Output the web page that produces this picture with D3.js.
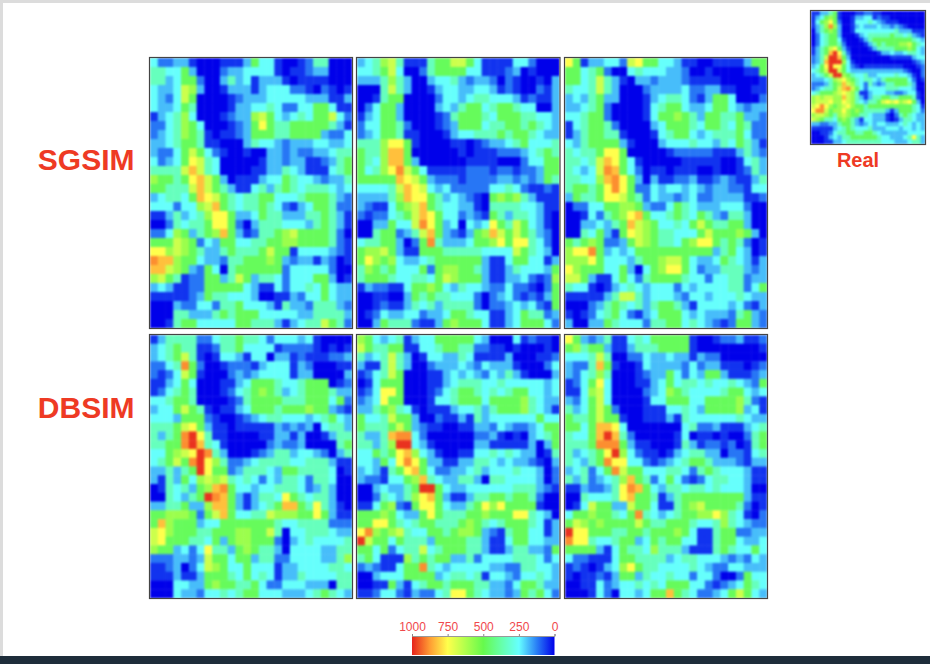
<!DOCTYPE html>
<html>
<head>
<meta charset="utf-8">
<script src="https://cdn.jsdelivr.net/npm/d3@7"></script>
<style>
html,body{margin:0;padding:0;background:#fff;overflow:hidden}
svg{display:block}
text{font-family:"Liberation Sans",Arial,sans-serif}
</style>
</head>
<body>
<svg id="c" width="930" height="664"></svg>
<script>
const sgsim1 = [
"42233 10001 11364 41001 25500 0","55446 30002 33444 41011 23300 0","55346 62003 53413 33101 11100 0",
"43348 73001 33313 44422 10210 1","43248 60000 12333 44444 33311 3","43346 50000 13344 54224 46641 1",
"13457 40001 23378 64345 46684 2","22457 64000 12369 65566 66653 1","23457 65101 12366 65566 66322 4",
"33456 65110 00354 43233 34433 4","32246 86421 00100 33232 23345 5","42346 98540 00001 33233 11235 6",
"55558 a8540 00011 33543 11145 6","76656 9a863 01113 44654 43233 5","66555 8a865 31145 35654 55543 4",
"34554 6a986 54556 64445 66653 2","44424 478a6 54556 54213 46652 2","11353 45799 63346 55333 55653 1",
"00254 55699 62035 55444 35653 1","22476 3567a 63125 56786 66652 0","66687 62436 64455 66776 66652 1",
"99787 65335 65556 86614 44432 1","baa76 64332 55666 76323 31320 1","aa876 32640 56666 66244 44420 0",
"78651 22663 58635 54244 46630 1","34311 22666 66431 14244 54643 3","11111 23655 44430 01132 44643 3",
"00032 24425 56444 31533 25553 2","00055 33356 56664 44443 35555 3","00156 64444 46655 53134 55865 2"];
const sgsim2 = [
"34578 51115 66886 41111 44200 0","44568 40025 66664 41112 30100 0","33357 53003 44532 33202 10010 3",
"00058 53001 34433 44312 10021 3","00156 60000 24434 55444 31211 3","02466 30000 34356 64566 54400 3",
"13466 30000 12566 65466 65544 3","24466 52000 12366 64556 65654 3","23466 51100 01344 55565 66543 3",
"55579 96100 00110 12334 56444 5","6557a a6000 00010 11122 23456 5","6547a a6300 00001 11100 02446 6",
"64579 b8641 11112 22122 12236 6","66666 a9863 22212 22233 23236 5","44445 8a984 34222 22445 42112 1",
"33335 7a996 53432 10676 75311 1","32114 678a6 54433 10555 54431 1","21224 568a9 64423 21653 55431 0",
"00336 448b9 63404 34965 86431 0","00566 2358a 63213 67a86 86532 0","45566 3026b 53334 66796 99542 0",
"67786 31166 65555 54444 86543 0","69767 43345 66666 63114 66441 3","57656 44462 67766 53113 54443 6",
"56665 44554 68766 63113 34212 7","13221 14667 64354 43224 22102 6","00110 03656 55444 20234 21213 6",
"00121 13545 35555 20223 43421 6","01243 34423 34665 44113 46552 3","00365 55211 36766 64113 46664 2"];
const sgsim3 = [
"96133 44289 66443 11001 11136 6","66456 20045 44433 20010 00011 6","66458 53103 32333 21111 00000 1",
"54458 53000 23333 42233 11001 1","34356 33000 13455 42136 64000 2","33456 20000 14566 43346 64323 3",
"44566 20000 14667 65366 55633 2","14566 52000 03466 65466 54652 2","13566 55100 01456 64345 55642 2",
"43566 66310 00344 45443 54653 1","54556 99600 00012 22221 11353 2","55458 a9641 00000 11111 00145 3",
"54348 ba642 01101 11001 00125 3","55447 ab963 03112 23112 32113 5","56656 9b962 24344 34323 32214 4",
"36556 99865 24332 34223 33311 2","02244 66776 32246 54333 44420 0","00142 5679a 64456 54653 25530 0",
"00334 356a8 76445 46865 56630 0","00546 31698 76554 44686 66763 0","65676 22368 76554 67996 56520 1",
"799b6 34346 66666 66663 56430 1","77796 44435 66788 64334 65431 3","97666 44630 46799 64233 55532 3",
"88631 14642 56666 54424 45523 3","54410 13454 34442 43444 45524 6","11111 35885 34443 24434 44543 3",
"00023 56545 35665 31444 43421 3","10124 56421 34666 43433 32563 2","30033 65444 25566 45432 12663 2"];
const dbsim1 = [
"13555 52245 56554 24443 41000 0","34565 51125 56444 41222 21010 1","34568 51014 43144 03312 11122 3",
"2245b 62001 22213 44413 20001 1","21248 61000 23234 44413 30000 3","11346 40001 13466 65445 66601 2",
"12456 50001 24567 65345 66653 3","44566 50000 12566 66555 66646 2","34468 65101 13466 65666 76632 1",
"44436 66210 01234 55444 34564 3","55568 96311 01111 13232 30455 3","5356b c9511 00001 13313 00135 5",
"5566b ca541 00000 23223 00005 6","44678 9cb53 00012 35534 43203 5","45686 bc975 22345 55544 55531 1",
"33535 6c966 23555 43665 55540 1","31536 47878 54542 43554 25540 0","01545 367ab 64434 45554 23530 0",
"00543 56cba 63135 54965 45530 0","33556 337aa 63134 56aa6 59531 0","66777 6268a 64455 87776 69631 1",
"6a766 63446 66666 65445 55522 2","89766 65566 67766 85044 55543 3","89666 55463 67766 62034 54444 5",
"76634 24955 36765 53044 44335 5","22233 23866 46635 52244 44335 7","11230 24876 44644 41334 44455 4",
"11131 13666 54645 41335 44445 5","00044 33676 65564 22444 33305 5","00043 32445 45664 44333 45654 3"];
const dbsim2 = [
"76434 51344 66666 43000 41211 0","86556 61144 56655 22110 10001 0","53458 53014 43354 11113 00011 2",
"31158 53002 33343 24333 10002 4","12458 60001 13434 32435 31000 3","01466 60001 13455 54454 44443 4",
"12499 60001 24566 54545 66443 4","23496 60001 44566 64666 67543 3","33567 54101 11344 53566 67543 1",
"64458 66300 21131 53444 44464 4","65556 86321 10011 33243 22346 6","5335a bb420 00000 22310 10345 6",
"55357 cc431 00000 33111 11303 6","44656 9a743 10011 44545 43301 5","44364 9b963 31133 55434 33210 3",
"34315 69a64 22334 53444 54430 2","32214 467a5 43355 30554 44430 2","00343 356cc 64334 44444 55532 1",
"00254 3579a 63113 55665 66520 0","11467 21699 64335 69796 66610 0","66676 43369 65556 67666 99543 0",
"66996 54566 55567 65456 66541 3","9b767 85446 65677 63215 66441 3","c8664 65553 66665 53114 66443 3",
"66462 45584 56665 53113 55332 6","56411 17565 66335 24444 55542 4","23211 466b5 43444 44332 25544 3",
"00344 46666 34554 51443 24454 3","00116 31456 65666 55332 46653 3","11244 21322 45996 54332 36564 2"];
const dbsim3 = [
"96323 51145 46666 61001 22311 2","67566 31135 55666 61000 00000 1","44458 50022 43343 31322 00000 0",
"3225a 61001 43333 24233 11101 2","32457 50001 23364 24366 31112 3","12469 40001 13464 55454 45432 6",
"11478 40000 23476 54444 56643 4","32468 40000 14466 64466 66752 1","53468 62000 11144 54366 66734 1",
"65568 66100 11131 54444 44543 3","6646a a9400 00000 45223 11134 5","5446a ca520 00001 40110 10025 6",
"5556b bb631 10001 53122 12015 6","53456 9c742 11013 45533 02214 5","54356 b9944 21234 56653 33213 3",
"34524 6b866 44455 42565 44431 1","53523 457a6 52464 21245 54431 1","11322 359ba 64355 45545 44430 0",
"00544 459a6 65135 66666 66631 1","01486 63386 64115 67866 66520 1","46676 6546b 54345 66779 75410 2",
"68767 66668 65566 65445 75432 2","c9966 65566 56667 64115 66223 3","b9954 45663 46566 44115 66433 4",
"66663 14655 47555 31115 65446 4","42211 14665 55534 55444 32324 3","12101 34796 55444 45432 24433 3",
"10112 13663 54454 42442 00264 4","00114 23445 45466 64421 23465 4","00014 20443 466a6 54223 46864 3"];
const real = [
"11335 61000 11221 10000 00000 0","13467 61001 33441 21100 00000 0","14679 62001 44454 32111 00000 0",
"1357b 73001 34333 43323 21000 0","03567 63001 44444 44445 33311 1","02456 63000 13455 55565 54532 1",
"02456 64100 01356 66666 66654 3","02456 65200 00135 65666 77865 4","13568 96310 00013 55556 66764 3",
"1356a c9520 00000 13343 34554 3","2358c ca630 00000 00011 11134 4","235ac cc741 00000 00000 00012 3",
"3469c 99642 10111 11111 10001 2","4568c c8643 33333 33333 32100 2","34568 cc765 44533 44445 44310 2",
"33345 78976 54554 35666 66420 1","22235 67a87 54253 23556 66530 0","23455 68ab8 64244 44555 44430 0",
"45666 78987 51134 44332 23441 0","78788 77a87 53135 56655 66651 0","78889 77987 54355 68989 78963 0",
"89b97 67897 66566 66666 66654 1","9bb86 77976 76555 55313 66654 2","78876 57876 65543 33102 56543 3",
"87655 46765 31443 33101 35543 3","33223 35665 32343 44333 45434 3","11111 34565 44453 33444 34434 3",
"00112 45566 55665 43333 33444 4","00013 43556 66666 54433 34595 3","00011 33455 55555 54443 33455 3"];

// Colour bar and level decoding
const stops = [0,125,250,375,500,625,750,875,1000];
const stopColors = ["#0000ea","#2a80f6","#66ffff","#66ffa8","#66fa4c","#b0ff4c","#ffff4c","#ff9c33","#e6241c"];
const barTicks = [1000,750,500,250,0];
const levelValues = [0,50,115,185,255,345,480,590,670,750,830,890,985];
const groupLabels = ["SGSIM","DBSIM"];

const color = d3.scaleLinear().domain(stops).range(stopColors).interpolate(d3.interpolateRgb);
const decode = rows => rows.map(r => Array.from(r.replace(/\s/g,""), c => levelValues[parseInt(c,16)]));

const panels = [
  {g:sgsim1,x:150,y:58,w:202,h:270,b:0.8},{g:sgsim2,x:357,y:58,w:202.5,h:270,b:0.8},{g:sgsim3,x:565,y:58,w:202,h:270,b:0.8},
  {g:dbsim1,x:150,y:335,w:202,h:263,b:0.8},{g:dbsim2,x:357,y:335,w:202.5,h:263,b:0.8},{g:dbsim3,x:565,y:335,w:202,h:263,b:0.8},
  {g:real,x:811,y:11,w:114,h:133,b:1}
];

const svg = d3.select("#c");
const defs = svg.append("defs");

// window chrome
svg.append("rect").attr("width",930).attr("height",664).attr("fill","#fff");
svg.append("rect").attr("width",930).attr("height",3).attr("fill","#dcdcdc");
svg.append("rect").attr("width",3).attr("height",664).attr("fill","#dcdcdc");
svg.append("rect").attr("y",656).attr("width",930).attr("height",8).attr("fill","#1e2d3a");

panels.forEach((p,idx) => {
  const data = decode(p.g);
  const x = d3.scaleBand().domain(d3.range(26)).range([p.x,p.x+p.w]);
  const y = d3.scaleBand().domain(d3.range(data.length)).range([p.y,p.y+p.h]);
  const clipId = "clip"+idx, blurId = "soft"+idx;
  defs.append("filter").attr("id",blurId).attr("filterUnits","userSpaceOnUse")
    .attr("x",p.x-6).attr("y",p.y-6).attr("width",p.w+12).attr("height",p.h+12)
    .attr("color-interpolation-filters","sRGB")
    .append("feGaussianBlur").attr("stdDeviation",p.b);
  defs.append("clipPath").attr("id",clipId).append("rect").attr("x",p.x).attr("y",p.y).attr("width",p.w).attr("height",p.h);
  const outer = svg.append("g").attr("clip-path",`url(#${clipId})`);
  const g = outer.append("g").attr("filter",`url(#${blurId})`);
  g.selectAll("g").data(data).join("g").selectAll("rect")
    .data((row,j) => row.map((v,i) => ({v,i,j})))
    .join("rect")
    .attr("x",d => x(d.i)).attr("y",d => y(d.j))
    .attr("width",x.bandwidth()+0.4).attr("height",y.bandwidth()+0.4)
    .attr("fill",d => color(d.v));
  svg.append("rect").attr("x",p.x-0.5).attr("y",p.y-0.5).attr("width",p.w+1).attr("height",p.h+1)
    .attr("fill","none").attr("stroke","#444").attr("stroke-width",1.2);
});

// labels
const red = "#ee3a24";
svg.selectAll("text.g").data(groupLabels).join("text").attr("class","g")
  .attr("x",134.5).attr("y",(d,i) => i ? 418 : 170).attr("text-anchor","end")
  .attr("font-size",30).attr("font-weight","bold").attr("fill",red).text(d => d);
svg.append("text").attr("x",858).attr("y",167).attr("text-anchor","middle")
  .attr("font-size",20).attr("font-weight","bold").attr("fill",red).text("Real");

// colour bar
const bx = d3.scaleLinear().domain([1000,0]).range([412,554.5]);
const grad = defs.append("linearGradient").attr("id","bar").attr("x1","0").attr("x2","1").attr("y1","0").attr("y2","0");
stops.slice().reverse().forEach(s => grad.append("stop")
  .attr("offset",(1000-s)/1000).attr("stop-color",color(s)));
svg.append("rect").attr("x",412).attr("y",636).attr("width",142.5).attr("height",19).attr("fill","url(#bar)");
const ax = svg.append("g").attr("transform","translate(0,636)")
  .call(d3.axisTop(bx).tickValues(barTicks).tickSize(2).tickPadding(3).tickFormat(d3.format("d")));
ax.select(".domain").attr("stroke","#999");
ax.selectAll("line").attr("stroke","#888");
ax.selectAll("text").attr("fill","#f0484c").attr("font-size",12).style("font-family","'Liberation Sans',Arial,sans-serif");
</script>
</body>
</html>
